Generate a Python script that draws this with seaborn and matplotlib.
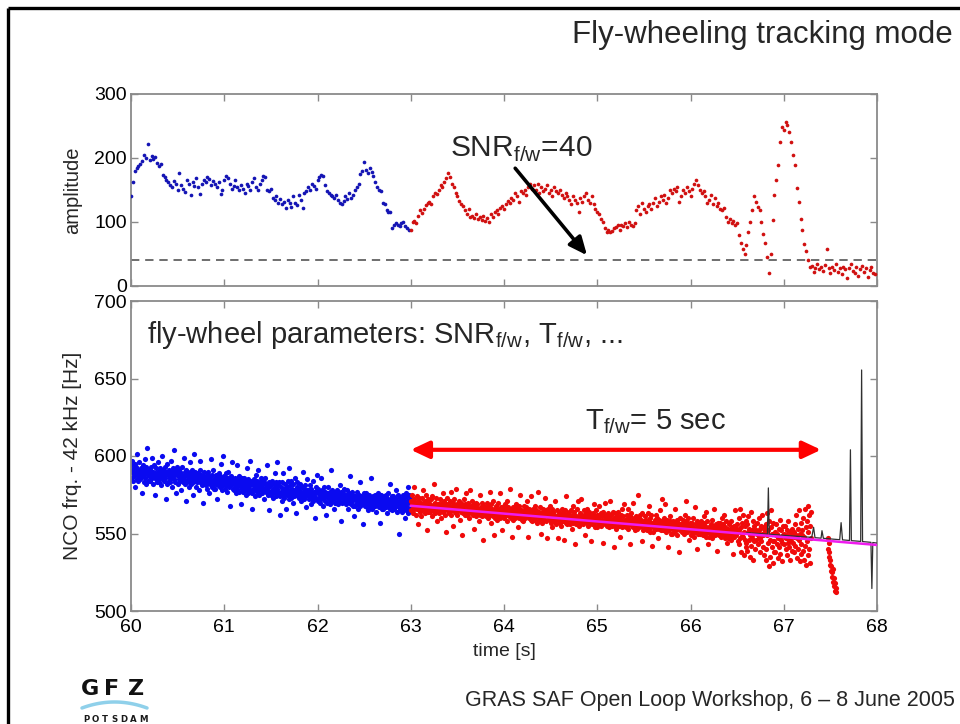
import numpy as np
import matplotlib
matplotlib.use("Agg")
import matplotlib.pyplot as plt
import seaborn as sns

# ---------------------------------------------------------------- data
# signal amplitude, sampled every 20 ms from t = 60 s
amp_t0, amp_dt = 60.0, 0.02
amp_closed_loop = [
    140, 163, 180, 185, 187, 190, 196, 204, 200, 222,
    197, 203, 199, 201, 192, 188, 190, 174, 170, 166,
    162, 158, 155, 164, 160, 150, 176, 158, 152, 147,
    165, 160, 142, 162, 157, 168, 155, 143, 160, 165,
    162, 170, 167, 158, 164, 160, 155, 162, 143, 150,
    165, 172, 168, 160, 152, 157, 165, 155, 150, 158,
    152, 145, 160, 157, 150, 163, 168, 155, 150, 160,
    165, 172, 170, 150, 148, 152, 138, 135, 140, 130,
    136, 128, 132, 122, 135, 130, 124, 140, 130, 127,
    142, 135, 122, 145, 148, 155, 150, 160, 157, 152,
    165, 170, 173, 172, 158, 148, 145, 142, 140, 138,
    142, 135, 130, 128, 133, 140, 136, 145, 138, 142,
    150, 155, 160, 175, 180, 193, 182, 176, 185, 178,
    172, 162, 155, 150, 148, 130, 128, 118, 116, 115,
    90, 96, 98, 95, 94, 98, 100, 93, 90, 87,
]
amp_fly_wheel = [
    88, 100, 102, 98, 110, 118, 114, 120, 126, 130,
    132, 128, 140, 145, 143, 150, 158, 155, 162, 168,
    176, 170, 160, 155, 145, 140, 133, 128, 125, 118,
    112, 120, 108, 110, 106, 112, 104, 108, 103, 110,
    102, 106, 100, 112, 108, 115, 118, 112, 122, 125,
    120, 128, 133, 130, 138, 135, 145, 140, 132, 148,
    145, 150, 142, 155, 160, 152, 158, 150, 160, 145,
    155, 148, 152, 158, 145, 150, 140, 155, 148, 145,
    150, 142, 138, 145, 140, 135, 128, 140, 135, 130,
    116, 138, 132, 140, 145, 135, 130, 140, 128, 120,
    115, 112, 105, 100, 90, 85, 88, 84, 86, 90,
    92, 95, 88, 96, 94, 98, 92, 100, 96, 94,
    98, 118, 125, 112, 130, 120, 115, 125, 128, 120,
    130, 138, 125, 132, 140, 135, 142, 130, 138, 150,
    145, 152, 148, 155, 132, 140, 150, 145, 155, 148,
    140, 152, 160, 166, 158, 150, 145, 148, 140, 130,
    135, 142, 128, 138, 125, 130, 120, 118, 122, 108,
    100, 104, 98, 102, 96,
    98, 80, 67, 58, 50, 64, 85, 100, 118, 140,
    131, 124, 118, 100, 82, 67, 45, 20, 50, 103,
    142, 165, 189, 225, 249, 244, 257, 252, 241, 225,
    205, 189, 153, 132, 105, 87, 65, 54, 40, 30,
    32, 22, 28, 35, 26, 30, 24, 33, 58, 28,
    20, 30, 25, 35, 22, 28, 18, 30, 26, 12,
    28, 34, 24, 20, 30, 16, 26, 32, 22, 28,
    14, 25, 30, 20, 18,
]
snr_threshold = 40

# NCO frequency minus 42 kHz [Hz], sampled every 5 ms
nco_dt = 0.005
nco_t0_closed, nco_t0_fly = 60.0, 63.0
nco_closed_loop = [
    594, 586, 591, 597, 584, 589, 592, 587, 595, 580, 590, 593, 585, 601, 588, 591, 584, 596, 589, 586,
    585, 592, 588, 576, 590, 594, 587, 583, 591, 598, 589, 586, 593, 582, 590, 605, 588, 584, 591, 587,
    591, 584, 589, 593, 586, 599, 587, 582, 590, 588, 594, 575, 589, 585, 592, 587, 583, 590, 596, 586,
    583, 590, 586, 592, 588, 581, 589, 600, 585, 591, 587, 584, 593, 586, 572, 589, 590, 582, 595, 588,
    589, 584, 591, 586, 583, 597, 588, 590, 580, 586, 592, 587, 604, 585, 589, 583, 591, 576, 588, 593,
    582, 589, 585, 591, 587, 584, 590, 578, 586, 593, 588, 583, 587, 599, 585, 590, 582, 588, 571, 591,
    588, 583, 590, 585, 580, 587, 596, 584, 589, 582, 586, 591, 575, 588, 583, 587, 601, 584, 590, 586,
    580, 587, 583, 589, 585, 578, 586, 591, 583, 597, 584, 588, 581, 585, 570, 587, 590, 582, 586, 583,
    586, 581, 588, 583, 579, 590, 584, 576, 587, 582, 585, 598, 583, 580, 588, 584, 591, 579, 585, 582,
    579, 585, 582, 588, 584, 572, 586, 581, 589, 583, 580, 587, 595, 582, 586, 578, 584, 600, 581, 587,
    585, 579, 583, 589, 581, 586, 577, 584, 582, 590, 580, 586, 568, 583, 587, 581, 596, 584, 579, 585,
    578, 584, 580, 586, 582, 576, 583, 594, 579, 585, 581, 587, 577, 582, 584, 569, 580, 586, 583, 579,
    583, 577, 581, 586, 579, 584, 575, 582, 592, 578, 580, 585, 576, 583, 579, 597, 581, 577, 584, 566,
    576, 582, 579, 585, 581, 574, 583, 578, 588, 580, 584, 577, 582, 591, 579, 575, 583, 580, 586, 578,
    582, 576, 580, 585, 578, 583, 572, 579, 586, 577, 581, 594, 578, 575, 582, 580, 565, 583, 577, 581,
    575, 581, 577, 584, 579, 573, 582, 578, 589, 576, 580, 583, 574, 579, 596, 577, 581, 575, 583, 562,
    574, 580, 577, 571, 583, 578, 575, 589, 579, 573, 582, 576, 578, 566, 580, 575, 584, 577, 572, 592,
    581, 575, 578, 584, 573, 579, 576, 570, 582, 577, 574, 586, 578, 575, 563, 580, 576, 583, 574, 579,
    573, 578, 582, 575, 571, 577, 580, 574, 590, 576, 572, 579, 575, 581, 577, 567, 574, 578, 585, 576,
    578, 572, 576, 581, 574, 569, 577, 579, 573, 575, 584, 571, 577, 574, 560, 576, 580, 573, 578, 588,
    571, 576, 579, 573, 577, 570, 575, 586, 572, 578, 574, 568, 576, 573, 580, 575, 571, 577, 562, 574,
    576, 570, 574, 580, 572, 575, 569, 577, 573, 591, 571, 575, 578, 572, 574, 566, 577, 573, 570, 576,
    570, 575, 578, 572, 569, 576, 574, 571, 581, 573, 577, 558, 574, 570, 576, 573, 579, 572, 575, 571,
    575, 569, 573, 578, 571, 566, 574, 572, 576, 570, 587, 573, 569, 575, 571, 577, 572, 568, 574, 561,
    568, 574, 572, 569, 577, 571, 566, 573, 570, 575, 572, 568, 583, 571, 574, 569, 573, 556, 571, 576,
    573, 568, 571, 576, 569, 574, 567, 572, 570, 565, 575, 571, 568, 573, 586, 570, 566, 572, 569, 574,
    567, 572, 570, 575, 568, 571, 564, 573, 569, 576, 571, 567, 574, 570, 557, 572, 568, 575, 570, 566,
    572, 566, 570, 574, 568, 571, 575, 567, 569, 563, 573, 570, 576, 568, 571, 582, 566, 572, 569, 574,
    565, 571, 568, 574, 566, 570, 573, 567, 569, 578, 564, 571, 568, 575, 550, 570, 566, 573, 569, 572,
    570, 564, 568, 575, 571, 566, 573, 560, 569, 576, 565, 571, 567, 574, 580, 563, 570, 575, 566, 572,
]
nco_fly_wheel = [
    571, 565, 569, 575, 563, 568, 572, 566, 580, 567, 570, 562, 569, 574, 566, 571, 556, 568, 573, 565,
    564, 570, 567, 561, 573, 566, 569, 578, 565, 568, 571, 563, 567, 575, 552, 569, 566, 572, 564, 568,
    570, 564, 566, 572, 568, 561, 574, 567, 565, 569, 582, 566, 563, 570, 567, 573, 565, 558, 569, 566,
    563, 569, 566, 572, 560, 567, 570, 565, 568, 576, 564, 566, 571, 562, 567, 551, 569, 565, 573, 566,
    569, 563, 567, 564, 571, 566, 577, 562, 568, 565, 570, 555, 566, 572, 564, 568, 563, 579, 566, 569,
    562, 568, 565, 571, 566, 559, 567, 564, 570, 565, 549, 568, 563, 566, 572, 565, 562, 569, 576, 564,
    568, 562, 566, 570, 564, 567, 560, 565, 578, 563, 568, 566, 571, 562, 565, 569, 553, 566, 563, 570,
    561, 567, 564, 569, 563, 566, 558, 565, 562, 575, 564, 567, 561, 570, 565, 546, 563, 566, 568, 562,
    566, 561, 565, 570, 563, 567, 560, 564, 568, 577, 562, 565, 569, 557, 564, 566, 561, 571, 564, 549,
    560, 566, 563, 568, 561, 565, 559, 564, 570, 562, 566, 576, 560, 564, 567, 563, 552, 565, 561, 568,
    565, 560, 564, 569, 562, 566, 571, 558, 563, 567, 561, 564, 579, 562, 566, 560, 565, 548, 563, 567,
    559, 565, 562, 567, 560, 564, 569, 561, 563, 554, 566, 562, 568, 560, 564, 575, 561, 565, 562, 559,
    564, 558, 563, 568, 561, 565, 560, 563, 567, 571, 562, 548, 564, 560, 566, 562, 565, 559, 574, 563,
    558, 564, 561, 566, 559, 563, 568, 560, 562, 565, 557, 563, 577, 561, 564, 559, 562, 567, 560, 550,
    563, 557, 562, 566, 560, 564, 559, 562, 573, 561, 565, 558, 563, 547, 561, 566, 560, 563, 568, 559,
    563, 557, 561, 566, 554, 560, 564, 558, 562, 559, 571, 556, 561, 565, 560, 547, 562, 558, 564, 561,
    557, 562, 560, 555, 566, 561, 558, 563, 546, 560, 565, 559, 562, 557, 574, 560, 556, 563, 559, 564,
    562, 556, 560, 565, 559, 553, 561, 568, 557, 562, 559, 564, 543, 560, 556, 561, 566, 558, 571, 560,
    555, 561, 558, 563, 560, 557, 572, 559, 562, 556, 560, 565, 558, 561, 549, 559, 563, 557, 560, 566,
    561, 555, 559, 564, 557, 562, 558, 545, 560, 556, 563, 559, 569, 557, 561, 554, 560, 565, 558, 562,
    554, 560, 557, 562, 568, 556, 559, 563, 555, 558, 561, 557, 564, 544, 559, 562, 556, 570, 558, 561,
    560, 555, 558, 563, 556, 561, 554, 559, 571, 557, 562, 555, 559, 564, 556, 541, 560, 557, 563, 555,
    553, 559, 556, 561, 558, 564, 555, 560, 557, 548, 562, 556, 559, 554, 566, 557, 561, 555, 569, 558,
    559, 554, 557, 562, 555, 560, 566, 553, 558, 556, 561, 543, 557, 563, 555, 559, 554, 570, 556, 560,
    552, 558, 555, 561, 557, 553, 559, 575, 556, 560, 554, 558, 562, 555, 559, 545, 557, 563, 556, 552,
    558, 553, 556, 561, 554, 559, 552, 557, 563, 555, 568, 553, 558, 551, 560, 556, 562, 542, 557, 554,
    551, 557, 554, 559, 556, 562, 553, 558, 555, 560, 547, 556, 559, 553, 565, 557, 552, 558, 572, 555,
    557, 552, 555, 560, 553, 558, 569, 551, 556, 554, 559, 553, 541, 557, 552, 558, 555, 561, 554, 550,
    550, 556, 553, 558, 555, 551, 557, 566, 552, 556, 549, 554, 559, 553, 557, 538, 554, 560, 552, 556,
    556, 551, 554, 559, 552, 557, 550, 555, 562, 553, 558, 571, 551, 556, 554, 560, 552, 546, 555, 557,
    549, 555, 552, 557, 550, 554, 560, 548, 553, 567, 551, 556, 553, 558, 540, 552, 555, 550, 557, 553,
    555, 550, 553, 558, 551, 556, 549, 554, 561, 552, 557, 550, 555, 564, 548, 553, 558, 551, 543, 554,
    548, 554, 551, 556, 549, 553, 559, 547, 552, 555, 550, 566, 553, 549, 556, 551, 539, 554, 550, 557,
    554, 549, 552, 557, 550, 555, 548, 553, 560, 551, 556, 549, 562, 552, 547, 554, 558, 550, 553, 544,
    547, 553, 550, 556, 548, 552, 558, 546, 551, 554, 549, 537, 552, 548, 555, 550, 565, 553, 549, 556,
    553, 545, 551, 560, 543, 552, 566, 547, 554, 538, 550, 557, 548, 562, 536, 551, 546, 555, 541, 558,
    544, 556, 539, 551, 561, 546, 553, 535, 549, 564, 542, 552, 547, 558, 533, 550, 545, 555, 540, 551,
    552, 546, 550, 557, 543, 551, 548, 560, 538, 553, 547, 555, 545, 550, 562, 541, 549, 554, 536, 552,
    551, 540, 556, 533, 549, 563, 544, 552, 529, 558, 546, 535, 554, 565, 541, 550, 531, 557, 545, 538,
    545, 551, 538, 549, 556, 543, 550, 534, 547, 553, 541, 548, 559, 537, 546, 552, 544, 532, 549, 555,
    550, 543, 548, 555, 540, 547, 552, 536, 549, 544, 558, 541, 546, 551, 533, 548, 545, 553, 539, 550,
    544, 551, 538, 548, 556, 542, 549, 562, 534, 547, 553, 540, 546, 565, 532, 550, 543, 557, 537, 549,
    552, 539, 560, 533, 548, 566, 542, 554, 530, 558, 545, 568, 536, 551, 562, 540, 555, 531, 564, 547,
]
nco_t0_dip = 67.47
nco_fly_wheel_dip = [547, 540, 544, 535, 538, 530, 533, 526, 529, 522,
                     525, 519, 527, 516, 521, 513, 518, 515, 512]

# model NCO frequency at the end of the occultation
model_t = [66.60, 66.825, 66.835, 66.845, 67.30, 67.32, 67.335, 67.40, 67.41,
           67.425, 67.60, 67.615, 67.63, 67.705, 67.715, 67.725, 67.825,
           67.835, 67.845, 67.935, 67.945, 67.955, 68.00]
model_hz = [550.5, 549.6, 579.4, 549.5, 547.5, 554.0, 547.3, 547.0, 551.8,
            546.9, 546.0, 557.0, 545.9, 545.5, 604.0, 545.4, 544.9,
            655.5, 544.8, 544.3, 514.5, 544.2, 543.8]

# linear fit to the fly-wheeling NCO frequency
fit_t = [63.0, 68.0]
fit_hz = [567.9, 542.6]

# fly-wheel interval marker
fw_interval = [63.0, 67.4]
fw_level = 604

time_ticks = [60, 61, 62, 63, 64, 65, 66, 67, 68]
amp_ticks = [0, 100, 200, 300]
nco_ticks = [500, 550, 600, 650, 700]

# ---------------------------------------------------------------- style
sns.set_theme(style="white")
plt.rcParams["font.family"] = ["Liberation Sans", "DejaVu Sans"]
plt.rcParams["axes.unicode_minus"] = False

W, H = 960, 724
fig = plt.figure(figsize=(W / 100, H / 100), dpi=100)
fig.patch.set_facecolor("white")

# slide frame, title and footer drawn in pixel coordinates
deco = fig.add_axes([0, 0, 1, 1], zorder=0)
deco.set_xlim(0, W)
deco.set_ylim(H, 0)
deco.axis("off")
deco.plot([8, W], [8, 8], color="black", lw=2.4, solid_capstyle="butt", clip_on=False)
deco.plot([8, 8], [8, H], color="black", lw=2.4, solid_capstyle="butt", clip_on=False)
deco.text(953, 43, "Fly-wheeling tracking mode", ha="right", va="baseline", fontsize=22.5)
deco.text(955, 706, "GRAS SAF Open Loop Workshop, 6 \u2013 8 June 2005",
          ha="right", va="baseline", fontsize=15.5)

# GFZ Potsdam logo
for ch, xc in zip("GFZ", [90, 112, 136]):
    deco.text(xc, 695, ch, ha="center", va="baseline", fontsize=16,
              fontweight="heavy", family="DejaVu Sans", color="#111111")
arc_x = np.linspace(82, 147, 50)
arc_y = 708 - 6 * (1 - ((arc_x - 114.5) / 32.5) ** 2)
deco.plot(arc_x, arc_y, color="#8fd0ea", lw=2.5, solid_capstyle="round")
for ch, xc in zip("POTSDAM", np.linspace(86, 143, 7)):
    deco.text(xc, 722, ch, ha="center", va="baseline", fontsize=6.2,
              fontweight="bold", family="DejaVu Sans", color="#1a1a1a")

L, R = 131, 877
ax1 = fig.add_axes([L / W, 1 - 286 / H, (R - L) / W, 192 / H], zorder=2)
ax2 = fig.add_axes([L / W, 1 - 611 / H, (R - L) / W, 310 / H], zorder=2)


def style_axes(ax):
    ax.set_facecolor("white")
    for sp in ax.spines.values():
        sp.set_visible(True)
        sp.set_color("#8a8a8a")
        sp.set_linewidth(1.3)
    ax.tick_params(direction="in", length=5, width=1, color="#8a8a8a",
                   top=True, right=True, bottom=True, left=True,
                   labelsize=14, labelcolor="black")
    ax.tick_params(axis="y", pad=3)
    ax.tick_params(axis="x", pad=6)
    ax.set_xlim(60, 68)
    ax.set_xticks(time_ticks)
    ax.grid(False)


# ---------------------------------------------------------------- amplitude
t_amp_closed = amp_t0 + amp_dt * np.arange(len(amp_closed_loop))
t_amp_fly = amp_t0 + amp_dt * (len(amp_closed_loop) + np.arange(len(amp_fly_wheel)))

ax1.axhline(snr_threshold, color="#555555", lw=1.2, ls=(0, (5, 3.5)), zorder=1)
sns.scatterplot(x=t_amp_closed, y=amp_closed_loop, ax=ax1, color="#1414b4",
                s=7, linewidth=0, legend=False, zorder=3)
sns.scatterplot(x=t_amp_fly, y=amp_fly_wheel, ax=ax1, color="#d01010",
                s=7, linewidth=0, legend=False, zorder=3)
style_axes(ax1)
ax1.set_ylim(0, 300)
ax1.set_yticks(amp_ticks)
ax1.tick_params(labelbottom=False)
ax1.set_xlabel("")
ax1.set_ylabel("amplitude", fontsize=14.5, labelpad=9)

ax1.annotate("", xy=(64.89, snr_threshold + 8), xytext=(64.12, 184),
             arrowprops=dict(arrowstyle="-|>,head_length=0.9,head_width=0.4",
                             lw=2.6, color="black", shrinkA=0, shrinkB=0,
                             mutation_scale=12), zorder=5)
ax1.text(63.42, 201, r"SNR$_{\mathregular{f/w}}$=40", fontsize=21.5,
         ha="left", va="baseline", zorder=5)

# ---------------------------------------------------------------- NCO frequency
t_nco_closed = nco_t0_closed + nco_dt * np.arange(len(nco_closed_loop))
t_nco_fly = nco_t0_fly + nco_dt * np.arange(len(nco_fly_wheel))
t_nco_dip = nco_t0_dip + nco_dt * np.arange(len(nco_fly_wheel_dip))

sns.scatterplot(x=t_nco_closed, y=nco_closed_loop, ax=ax2, color="#0a0af0",
                s=14, linewidth=0, legend=False, zorder=2)
sns.scatterplot(x=np.concatenate([t_nco_fly, t_nco_dip]),
                y=nco_fly_wheel + nco_fly_wheel_dip, ax=ax2, color="#f00a0a",
                s=14, linewidth=0, legend=False, zorder=2)
sns.lineplot(x=model_t, y=model_hz, ax=ax2, color="#303030", lw=0.9,
             sort=False, estimator=None, legend=False, zorder=3)
sns.lineplot(x=fit_t, y=fit_hz, ax=ax2, color="#ee1cee", lw=1.8,
             sort=False, estimator=None, legend=False, zorder=4)
style_axes(ax2)
ax2.set_ylim(500, 700)
ax2.set_yticks(nco_ticks)
ax2.set_xticklabels([str(v) for v in time_ticks])
ax2.set_xlabel("time [s]", fontsize=14, labelpad=5)
ax2.set_ylabel("NCO frq. - 42 kHz [Hz]", fontsize=15, labelpad=9)

ax2.annotate("", xy=(fw_interval[1], fw_level), xytext=(fw_interval[0], fw_level),
             arrowprops=dict(arrowstyle="<|-|>,head_length=0.85,head_width=0.4",
                             lw=3, color="#ff0000", shrinkA=0, shrinkB=0,
                             mutation_scale=13), zorder=5)
ax2.text(64.87, 617, r"T$_{\mathregular{f/w}}$= 5 sec", fontsize=21,
         ha="left", va="baseline", zorder=5)
ax2.text(60.17, 673,
         r"fly-wheel parameters: SNR$_{\mathregular{f/w}}$, T$_{\mathregular{f/w}}$, ...",
         fontsize=21, ha="left", va="baseline", zorder=5)

fig.savefig("out.png", dpi=100, facecolor="white")
